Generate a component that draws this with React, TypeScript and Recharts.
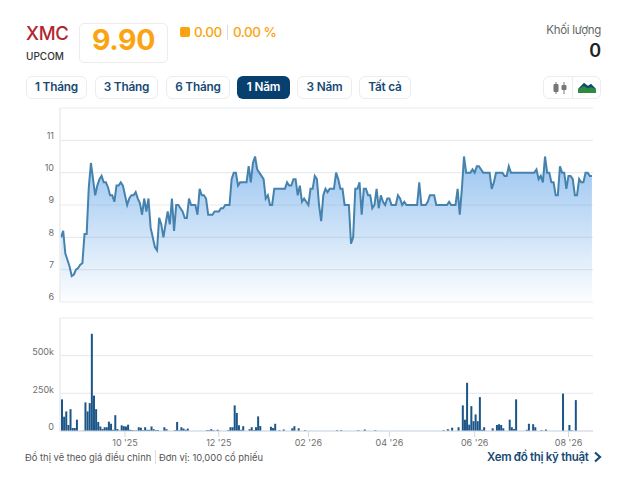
import { Area, AreaChart, Bar, BarChart, CartesianGrid, XAxis, YAxis } from "recharts";

const prices = [
  8.0, 8.2, 7.5, 7.3, 7.1, 6.8, 6.85, 7.0, 7.05, 7.15,
  7.2, 8.1, 8.1, 9.55, 10.3, 9.8, 9.3, 9.6, 9.8, 9.9,
  9.7, 9.7, 9.55, 9.3, 9.3, 9.1, 9.6, 9.6, 9.7, 9.6,
  9.3, 9.0, 9.2, 9.3, 9.3, 9.4, 9.2, 9.05, 8.7, 9.2,
  8.8, 9.2, 8.3, 8.0, 7.7, 7.6, 8.6, 8.4, 8.0, 8.4,
  8.8, 8.4, 9.2, 8.2, 9.0, 9.0, 8.9, 8.8, 8.6, 8.6,
  9.2, 9.0, 9.0, 9.0, 8.7, 9.5, 9.3, 9.3, 9.2, 8.7,
  8.7, 8.7, 8.8, 8.8, 8.8, 8.9, 8.9, 9.0, 9.0, 9.0,
  9.8, 10.0, 10.0, 9.6, 9.7, 9.7, 9.7, 9.7, 10.2, 9.7,
  10.3, 10.5, 10.1, 10.0, 9.9, 9.8, 9.2, 9.3, 9.0, 9.0,
  9.5, 9.5, 9.5, 9.5, 9.5, 9.5, 9.7, 9.6, 9.6, 9.8,
  9.8, 9.3, 9.6, 9.1, 9.2, 9.1, 9.0, 9.5, 9.5, 9.9,
  9.8, 9.0, 8.5, 9.3, 9.5, 9.4, 9.5, 9.5, 9.5, 10.0,
  9.8, 9.5, 9.5, 9.0, 9.0, 9.0, 7.8, 8.0, 9.5, 9.5,
  9.7, 8.7, 9.5, 9.5, 9.3, 9.3, 8.9, 9.0, 9.5, 8.9,
  9.3, 9.1, 9.0, 9.2, 9.2, 9.0, 9.0, 9.0, 9.3, 9.2,
  9.0, 9.1, 9.0, 9.0, 9.0, 9.0, 9.0, 9.0, 9.7, 9.0,
  9.0, 9.0, 9.1, 9.3, 9.3, 9.3, 9.0, 9.0, 9.0, 9.0,
  9.0, 9.0, 9.1, 9.0, 9.0, 9.0, 9.5, 8.7, 9.5, 10.5,
  10.0, 10.0, 10.0, 10.1, 10.0, 10.2, 10.2, 10.1, 10.0, 10.0,
  10.0, 10.0, 9.5, 9.7, 10.0, 10.0, 10.0, 10.0, 9.9, 9.9,
  10.2, 10.0, 10.0, 10.0, 10.0, 10.0, 10.0, 10.0, 10.0, 10.0,
  10.0, 10.0, 10.0, 10.1, 9.8, 9.9, 9.7, 10.5, 10.0, 10.0,
  9.7, 9.7, 9.3, 9.3, 10.2, 10.0, 10.0, 9.5, 9.9, 9.9,
  9.8, 9.3, 9.3, 9.8, 9.7, 9.7, 10.0, 10.0, 9.9, 9.9,
];

// thousands of shares
const volumes = [
  210, 95, 130, 40, 145, 20, 20, 75, 0, 0,
  2, 190, 130, 185, 645, 235, 145, 60, 30, 13,
  25, 25, 62, 48, 8, 105, 13, 3, 38, 32,
  30, 42, 8, 6, 3, 3, 25, 22, 5, 25,
  8, 8, 30, 12, 6, 6, 0, 0, 25, 12,
  0, 0, 0, 5, 60, 5, 25, 16, 8, 16,
  0, 0, 0, 0, 0, 0, 0, 0, 5, 5,
  12, 5, 0, 8, 0, 0, 0, 0, 5, 25,
  25, 170, 120, 38, 8, 32, 0, 0, 12, 25,
  6, 25, 97, 33, 0, 0, 0, 0, 28, 20,
  48, 0, 5, 0, 10, 0, 0, 0, 18, 32,
  0, 18, 0, 0, 5, 0, 0, 0, 0, 0,
  0, 0, 0, 0, 0, 0, 0, 0, 0, 5,
  0, 6, 0, 0, 0, 0, 0, 0, 0, 5,
  0, 0, 10, 0, 0, 0, 0, 5, 0, 0,
  0, 0, 0, 0, 0, 0, 0, 0, 0, 0,
  0, 0, 0, 0, 0, 0, 0, 0, 0, 0,
  0, 0, 0, 0, 0, 0, 0, 0, 0, 5,
  0, 12, 0, 22, 0, 0, 25, 0, 170, 75,
  320, 42, 165, 65, 110, 65, 225, 8, 25, 0,
  0, 0, 18, 0, 40, 45, 40, 18, 0, 0,
  75, 25, 13, 210, 0, 0, 0, 0, 8, 48,
  0, 45, 25, 0, 0, 5, 0, 10, 0, 0,
  0, 0, 0, 0, 0, 248, 0, 0, 40, 5,
  0, 205, 0, 0, 0, 0, 0, 0, 0, 0,
];

const monthTicks = [30, 74, 116, 154, 194, 238];
const monthLabels = ["10 '25", "12 '25", "02 '26", "04 '26", "06 '26", "08 '26"];
const priceTicks = [6, 7, 8, 9, 10, 11, 12];
const volumeTicks = [0, 250, 500, 750];
const ranges = ["1 Tháng", "3 Tháng", "6 Tháng", "1 Năm", "3 Năm", "Tất cả"];
const rangeBoxes = [
  [26, 61],
  [95, 63],
  [166, 64],
  [237, 53],
  [297, 55],
  [359, 52],
];

const priceData = prices.map((price, i) => ({ i, price }));
const volumeData = volumes.map((volume, i) => ({ i, volume }));

const font = "Inter, sans-serif";
const navy = "#174a75";
const orange = "#fca311";
const gridColor = "#e9ebee";
const tickStyle = { fontSize: 9, fill: "#6e6e6e", fontFamily: font };

function Text({ x, y, size, color, weight = 400, right, spacing = 0, children }: any) {
  const pos = right !== undefined ? { right } : { left: x };
  return (
    <div
      style={{
        position: "absolute",
        top: y,
        ...pos,
        fontSize: size,
        color,
        fontWeight: weight,
        letterSpacing: spacing,
        lineHeight: "16px",
        whiteSpace: "nowrap",
      }}
    >
      {children}
    </div>
  );
}

function Header() {
  return (
    <>
      <Text x={26} y={25} size={18.5} color="#b3262e" weight={500} spacing={-0.3}>XMC</Text>
      <Text x={26} y={48} size={10} color="#333" weight={500}>UPCOM</Text>
      <div
        style={{
          position: "absolute",
          left: 79,
          top: 23,
          width: 87,
          height: 38,
          border: "1px solid #ececec",
          borderRadius: 5,
        }}
      />
      <Text x={92} y={32} size={28.5} color={orange} weight={700} spacing={-0.4}>9.90</Text>
      <div style={{ position: "absolute", left: 180, top: 27, width: 10, height: 10, background: orange, borderRadius: 2 }} />
      <Text x={194} y={24} size={13.5} color={orange} weight={500} spacing={-0.4}>0.00</Text>
      <div style={{ position: "absolute", left: 227, top: 25, width: 1, height: 15, background: "#ddd" }} />
      <Text x={233} y={24} size={13.5} color={orange} weight={500} spacing={-0.5}>0.00 %</Text>
      <Text right={28} y={22} size={11.5} color="#666" spacing={-0.3}>Khối lượng</Text>
      <Text right={28} y={43} size={18} color="#222" weight={600}>0</Text>

      {ranges.map((r, idx) => {
        const active = r === "1 Năm";
        return (
          <div
            key={r}
            style={{
              position: "absolute",
              left: rangeBoxes[idx][0],
              top: 76,
              width: rangeBoxes[idx][1],
              height: 23,
              boxSizing: "border-box",
              border: active ? "none" : "1px solid #ececec",
              borderRadius: 6,
              background: active ? "#073f6e" : "#fff",
              color: active ? "#fff" : navy,
              fontSize: 11.8,
              fontWeight: 600,
              letterSpacing: -0.2,
              lineHeight: active ? "23px" : "21px",
              textAlign: "center",
            }}
          >
            {r}
          </div>
        );
      })}

      <div
        style={{
          position: "absolute",
          left: 543,
          top: 76,
          width: 58,
          height: 23,
          boxSizing: "border-box",
          border: "1px solid #ececec",
          borderRadius: 6,
        }}
      />
      <div style={{ position: "absolute", left: 572, top: 76, width: 1, height: 23, background: "#ececec" }} />
      <svg style={{ position: "absolute", left: 543, top: 76 }} width={58} height={23}>
        <path d="M13 6V18M21 6V18" stroke="#777" strokeWidth={1} />
        <rect x={10.5} y={8} width={5} height={8} rx={1} fill="#777" />
        <rect x={18.5} y={9} width={5} height={5} rx={1} fill="#777" />
        <path d="M35 17L35 13L41 7L45 10L48 8L53 13L53 17Z" fill="#2d8a3e" />
        <path d="M35 13L41 7L45 10L48 8L53 13L48 11L45 12.5L41 10Z" fill="#0c4a78" />
      </svg>
    </>
  );
}

function Footer() {
  return (
    <>
      <Text x={25} y={450} size={9.4} color="#555">Đồ thị vẽ theo giá điều chỉnh</Text>
      <div style={{ position: "absolute", left: 155, top: 450, width: 1, height: 14, background: "#ddd" }} />
      <Text x={159} y={450} size={9.4} color="#555">Đơn vị: 10,000 cổ phiếu</Text>
      <Text x={487} y={449} size={11.5} color={navy} weight={600} spacing={-0.3}>Xem đồ thị kỹ thuật</Text>
      <svg style={{ position: "absolute", left: 593, top: 451 }} width={10} height={12}>
        <path d="M2 1.5L7 6L2 10.5" fill="none" stroke={navy} strokeWidth={2.2} />
      </svg>
    </>
  );
}

function PriceChart() {
  return (
    <div style={{ position: "absolute", left: 0, top: 100 }}>
      <AreaChart width={629} height={210} data={priceData} margin={{ top: 8, right: 36, bottom: 8, left: 0 }}>
        <defs>
          <linearGradient id="priceFill" x1="0" y1="0" x2="0" y2="1">
            <stop offset="0%" stopColor="#3a8de2" stopOpacity={0.85} />
            <stop offset="100%" stopColor="#3a8de2" stopOpacity={0.02} />
          </linearGradient>
        </defs>
        <CartesianGrid vertical={false} stroke={gridColor} strokeWidth={1.2} />
        <XAxis dataKey="i" type="number" domain={[-0.5, 249.5]} hide />
        <YAxis
          width={60}
          domain={[6, 12]}
          ticks={priceTicks}
          interval={0}
          tick={{ ...tickStyle, dy: -5, dx: 2 }}
          tickFormatter={(v: number) => (v === 12 ? "" : String(v))}
          axisLine={{ stroke: gridColor, strokeWidth: 1.5 }}
          tickLine={false}
        />
        <Area
          type="linear"
          dataKey="price"
          stroke="#4583ae"
          strokeWidth={2}
          fill="url(#priceFill)"
          dot={false}
          activeDot={false}
          isAnimationActive={false}
        />
      </AreaChart>
    </div>
  );
}

// the library leaves the bars a pixel left of their session, nudge them back
function VolumeBar({ x, y, width, height, fill }: any) {
  return <rect x={x + 1} y={y} width={width} height={height} fill={fill} />;
}

function VolumeChart() {
  return (
    <div style={{ position: "absolute", left: 0, top: 310 }}>
      <BarChart width={629} height={145} data={volumeData} margin={{ top: 8, right: 36, bottom: 0, left: 0 }}>
        <CartesianGrid vertical={false} stroke={gridColor} strokeWidth={1.2} />
        <XAxis
          dataKey="i"
          type="number"
          domain={[-0.5, 249.5]}
          ticks={monthTicks}
          interval={0}
          height={24}
          tick={{ ...tickStyle, dy: 1 }}
          tickFormatter={(v: number) => monthLabels[monthTicks.indexOf(v)]}
          axisLine={{ stroke: "#cfd8e6" }}
          tickLine={{ stroke: "#cfd8e6" }}
        />
        <YAxis
          width={60}
          domain={[0, 750]}
          ticks={volumeTicks}
          interval={0}
          tick={{ ...tickStyle, dy: -4, dx: 2 }}
          tickFormatter={(v: number) => (v === 750 ? "" : v === 0 ? "0" : `${v}k`)}
          axisLine={{ stroke: gridColor, strokeWidth: 1.5 }}
          tickLine={false}
        />
        <Bar dataKey="volume" fill="#1c5688" barSize={2} shape={VolumeBar} isAnimationActive={false} />
      </BarChart>
    </div>
  );
}

export default function App() {
  return (
    <div
      style={{
        position: "absolute",
        left: 0,
        top: 0,
        width: 629,
        height: 485,
        background: "#fff",
        fontFamily: font,
      }}
    >
      <Header />
      <PriceChart />
      <VolumeChart />
      <Footer />
    </div>
  );
}
